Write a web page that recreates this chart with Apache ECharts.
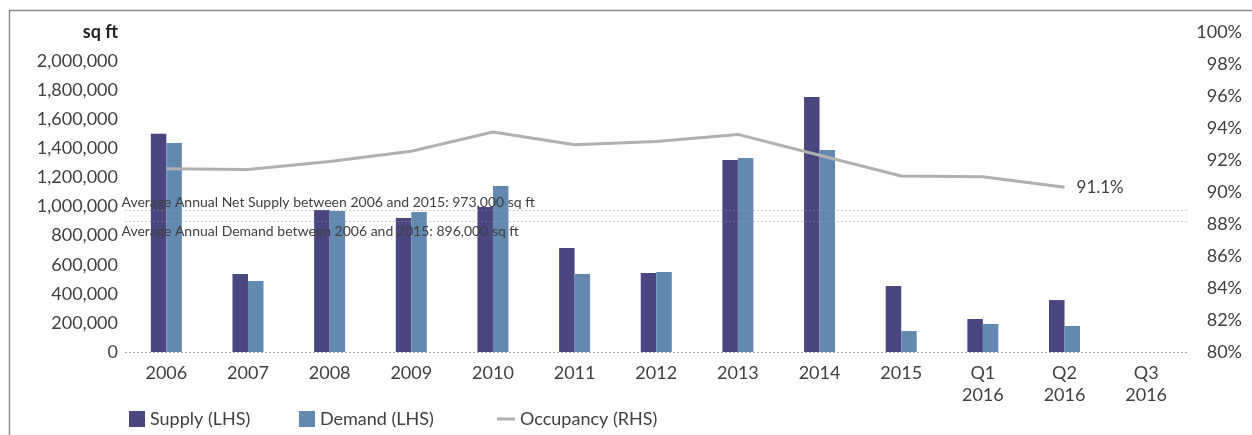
<!DOCTYPE html>
<html>
<head>
<meta charset="utf-8">
<script src="https://cdn.jsdelivr.net/npm/echarts@6/dist/echarts.min.js"></script>
<style>
html,body{margin:0;padding:0;background:#fff;}
#c{width:1252px;height:435px;}
</style>
</head>
<body>
<div id="c"></div>
<script>
const categories = ['2006','2007','2008','2009','2010','2011','2012','2013','2014','2015','Q1\n2016','Q2\n2016','Q3\n2016'];
const supply = [1500000, 536000, 976000, 921000, 997000, 715000, 543000, 1320000, 1753000, 454000, 227000, 357000, null];
const demand = [1437000, 488000, 969000, 963000, 1141000, 536000, 550000, 1334000, 1389000, 144000, 193000, 179000, null];
const occupancy = [91.45, 91.4, 91.9, 92.55, 93.75, 92.95, 93.15, 93.6, 92.3, 91.0, 90.95, 90.3, null];
const occupancyEndLabel = '91.1%';
const avgSupply = 973000;
const avgDemand = 896000;
const avgSupplyText = 'Average Annual Net Supply between 2006 and 2015: 973,000 sq ft';
const avgDemandText = 'Average Annual Demand between 2006 and 2015: 896,000 sq ft';
const leftTicks = {min: 0, max: 2200000, interval: 200000, unitLabel: 'sq ft'};
const rightTicks = {min: 80, max: 100, interval: 2};

const FONT = 'Lato';
const TXT = '#404040';
const C_SUP = '#4b4580';
const C_DEM = '#6389b1';
const C_OCC = '#b0b0b0';
const DOT = {color: '#9a9a9a', type: [1, 3], width: 1};

const chart = echarts.init(document.getElementById('c'), null, {renderer: 'canvas'});
const legendText = {color: TXT, fontFamily: FONT, fontSize: 18};
chart.setOption({
  animation: false,
  backgroundColor: '#fff',
  textStyle: {fontFamily: FONT},
  grid: {left: 125.5, right: 65, top: 32, bottom: 83, containLabel: false},
  legend: [
    {data: ['Supply (LHS)'], left: 129, top: 410, padding: 0, itemWidth: 16, itemHeight: 16, icon: 'rect', textStyle: legendText},
    {data: ['Demand (LHS)'], left: 299, top: 410, padding: 0, itemWidth: 16, itemHeight: 16, icon: 'rect', textStyle: legendText},
    {data: [{name: 'Occupancy (RHS)', icon: 'rect'}], left: 497, top: 410, padding: 0, itemWidth: 18, itemHeight: 3, textStyle: legendText}
  ],
  xAxis: {
    type: 'category',
    data: categories,
    boundaryGap: true,
    axisTick: {show: false},
    axisLine: {lineStyle: DOT},
    axisLabel: {color: TXT, fontFamily: FONT, fontSize: 18, lineHeight: 22, margin: 10, interval: 0}
  },
  yAxis: [
    {
      type: 'value', min: leftTicks.min, max: leftTicks.max, interval: leftTicks.interval,
      splitLine: {show: false}, axisLine: {show: false}, axisTick: {show: false},
      axisLabel: {
        color: TXT, fontFamily: FONT, fontSize: 18, margin: 7.5, align: 'right',
        formatter: v => v === leftTicks.max ? '{b|' + leftTicks.unitLabel + '}' : v.toLocaleString('en-US'),
        rich: {b: {fontWeight: 'bold', color: '#222', fontFamily: FONT, fontSize: 18}}
      }
    },
    {
      type: 'value', min: rightTicks.min, max: rightTicks.max, interval: rightTicks.interval,
      position: 'right',
      splitLine: {show: false}, axisLine: {show: false}, axisTick: {show: false},
      axisLabel: {color: TXT, fontFamily: FONT, fontSize: 18, margin: 55, align: 'right', formatter: '{value}%'}
    }
  ],
  series: [
    {
      name: 'Supply (LHS)', type: 'bar', data: supply, barWidth: 15.5, barGap: '0%',
      itemStyle: {color: C_SUP},
      markLine: {
        silent: true, symbol: 'none', z: 5,
        lineStyle: DOT,
        label: {show: true, position: 'insideStartTop', distance: [-4, 1], formatter: () => avgSupplyText,
                color: TXT, fontFamily: FONT, fontSize: 14},
        data: [{yAxis: avgSupply}]
      }
    },
    {
      name: 'Demand (LHS)', type: 'bar', data: demand, barWidth: 15.5, barGap: '0%',
      itemStyle: {color: C_DEM},
      markLine: {
        silent: true, symbol: 'none', z: 5,
        lineStyle: DOT,
        label: {show: true, position: 'insideStartBottom', distance: [-4, 3], formatter: () => avgDemandText,
                color: TXT, fontFamily: FONT, fontSize: 14},
        data: [{yAxis: avgDemand}]
      }
    },
    {
      name: 'Occupancy (RHS)', type: 'line', yAxisIndex: 1, data: occupancy,
      symbol: 'none', showSymbol: false,
      lineStyle: {color: C_OCC, width: 3}, itemStyle: {color: C_OCC},
      endLabel: {show: true, distance: 12, formatter: () => occupancyEndLabel,
                 color: TXT, fontFamily: FONT, fontSize: 17},
      z: 3
    }
  ],
  graphic: [
    {type: 'line', shape: {x1: 9.5, y1: 10, x2: 9.5, y2: 435}, style: {stroke: '#8a8a8a', lineWidth: 1.5}, silent: true},
    {type: 'line', shape: {x1: 9, y1: 10.5, x2: 1252, y2: 10.5}, style: {stroke: '#8a8a8a', lineWidth: 1.5}, silent: true}
  ]
});
</script>
</body>
</html>
